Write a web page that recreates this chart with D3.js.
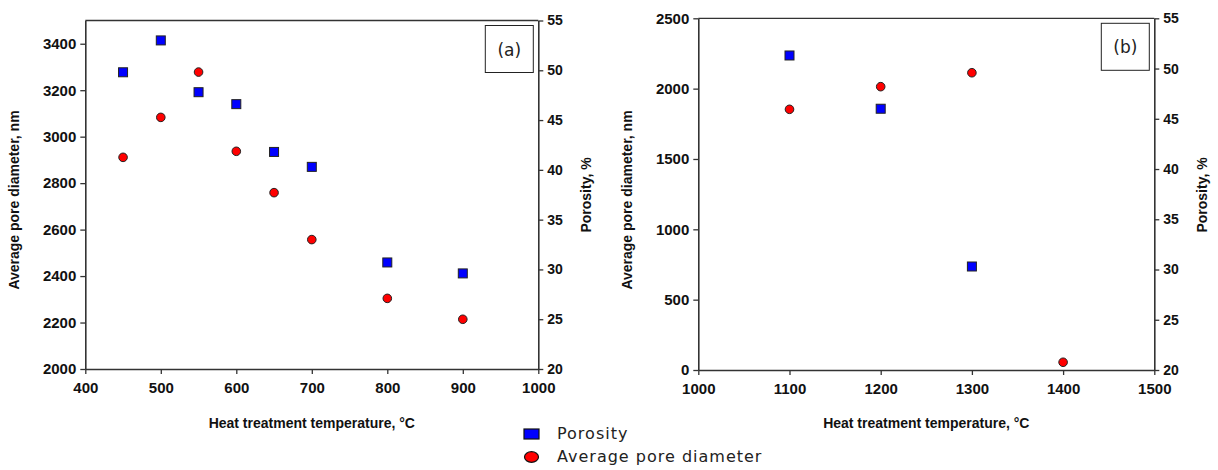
<!DOCTYPE html>
<html>
<head>
<meta charset="utf-8">
<script src="https://cdn.jsdelivr.net/npm/d3@7"></script>
<style>
  body { margin: 0; background: #fff; }
  svg { display: block; }
</style>
</head>
<body>
<svg id="chart" width="1218" height="470"></svg>
<script>
// data
const tempA = [450, 500, 550, 600, 650, 700, 800, 900];
const porosityA = [49.8, 53.0, 47.8, 46.6, 41.8, 40.3, 30.7, 29.6];
const diameterA = [2911, 3083, 3278, 2937, 2759, 2557, 2304, 2214];

const tempB_por = [1100, 1200, 1300];
const porosityB = [51.3, 46.0, 30.3];
const tempB_dia = [1100, 1200, 1300, 1400];
const diameterB = [1853, 2014, 2113, 55];

const xTicksA = [400, 500, 600, 700, 800, 900, 1000];
const yTicksA = [2000, 2200, 2400, 2600, 2800, 3000, 3200, 3400];
const xTicksB = [1000, 1100, 1200, 1300, 1400, 1500];
const yTicksB = [0, 500, 1000, 1500, 2000, 2500];
const porTicks = [20, 25, 30, 35, 40, 45, 50, 55];

const svg = d3.select("#chart");
const axisColor = "#333";
const fmt = d3.format("d");

const drawPanel = (p) => {
  const x = d3.scaleLinear().domain(p.xDomain).range([p.left, p.right]);
  const yL = d3.scaleLinear().domain(p.yDomain).range([p.bottom, p.top]);
  const yR = d3.scaleLinear().domain([20, 55]).range([p.bottom, p.top]);
  const g = svg.append("g");

  // top frame line
  g.append("line")
    .attr("x1", p.left).attr("x2", p.right)
    .attr("y1", p.top).attr("y2", p.top)
    .attr("stroke", axisColor).attr("stroke-width", 1.3);

  const styleAxis = (size) => (sel) => {
    sel.select(".domain").attr("stroke", axisColor).attr("stroke-width", 1.6);
    sel.selectAll(".tick line").attr("stroke", axisColor).attr("stroke-width", 1.3);
    sel.selectAll("text")
      .attr("font-family", "Liberation Sans, Arial, sans-serif")
      .attr("font-weight", "bold")
      .attr("font-size", size)
      .attr("fill", "#111");
  };

  g.append("g").attr("transform", "translate(0," + p.bottom + ")")
    .call(d3.axisBottom(x).tickValues(p.xTicks).tickFormat(fmt).tickSize(5).tickSizeOuter(0).tickPadding(8))
    .call(styleAxis("15px"));
  g.append("g").attr("transform", "translate(" + p.left + ",0)")
    .call(d3.axisLeft(yL).tickValues(p.yTicks).tickFormat(fmt).tickSize(5).tickSizeOuter(0).tickPadding(4))
    .call(styleAxis("15px"));
  g.append("g").attr("transform", "translate(" + p.right + ",0)")
    .call(d3.axisRight(yR).tickValues(porTicks).tickFormat(fmt).tickSize(5).tickSizeOuter(0).tickPadding(4))
    .call(styleAxis("14px"));

  // axis titles
  const bold = (t) => t.attr("font-family", "Liberation Sans, Arial, sans-serif")
    .attr("font-weight", "bold").attr("font-size", "14px").attr("fill", "#111")
    .attr("text-anchor", "middle");
  g.append("text").call(bold)
    .attr("transform", "translate(" + (p.left - p.ylabOff) + ",200) rotate(-90)")
    .text("Average pore diameter, nm");
  g.append("text").call(bold)
    .attr("transform", "translate(" + (p.right + 53) + ",195) rotate(-90)")
    .text("Porosity, %");
  g.append("text").call(bold)
    .attr("x", (p.left + p.right) / 2).attr("y", 428)
    .text("Heat treatment temperature, °C");

  // panel tag box
  g.append("rect")
    .attr("x", p.right - 53).attr("y", p.top + 5)
    .attr("width", 48).attr("height", 47)
    .attr("fill", "#fff").attr("stroke", "#222").attr("stroke-width", 1);
  g.append("text")
    .attr("x", p.right - 29).attr("y", p.top + 35)
    .attr("text-anchor", "middle")
    .attr("font-family", "DejaVu Sans, sans-serif").attr("font-size", "17px")
    .attr("fill", "#222")
    .text(p.tag);

  // pore diameter points
  g.selectAll(".dia").data(p.diaX.map((t, i) => [t, p.dia[i]])).enter()
    .append("circle")
    .attr("cx", d => x(d[0])).attr("cy", d => yL(d[1]))
    .attr("r", 4.3)
    .attr("fill", "#ff0000").attr("stroke", "#222").attr("stroke-width", 1);

  // porosity points
  g.selectAll(".por").data(p.porX.map((t, i) => [t, p.por[i]])).enter()
    .append("rect")
    .attr("x", d => x(d[0]) - 4.5).attr("y", d => yR(d[1]) - 4.5)
    .attr("width", 9).attr("height", 9)
    .attr("fill", "#0000ff").attr("stroke", "#222").attr("stroke-width", 1);
};

drawPanel({
  left: 85.3, right: 538.3, top: 20.5, bottom: 369,
  xDomain: [400, 1000], yDomain: [2000, 3500],
  xTicks: xTicksA, yTicks: yTicksA, ylabOff: 66,
  porX: tempA, por: porosityA, diaX: tempA, dia: diameterA, tag: "(a)"
});

drawPanel({
  left: 698.3, right: 1154.3, top: 18.3, bottom: 370,
  xDomain: [1000, 1500], yDomain: [0, 2500],
  xTicks: xTicksB, yTicks: yTicksB, ylabOff: 66,
  porX: tempB_por, por: porosityB, diaX: tempB_dia, dia: diameterB, tag: "(b)"
});

// legend
const legend = svg.append("g");
legend.append("rect")
  .attr("x", 524).attr("y", 429).attr("width", 15).attr("height", 10)
  .attr("fill", "#0000ff").attr("stroke", "#111").attr("stroke-width", 1.2);
legend.append("ellipse")
  .attr("cx", 531.5).attr("cy", 457).attr("rx", 7).attr("ry", 5.3)
  .attr("fill", "#ff0000").attr("stroke", "#111").attr("stroke-width", 1.2);
legend.selectAll(".lab").data(["Porosity", "Average pore diameter"]).enter()
  .append("text")
  .attr("x", 557).attr("y", (d, i) => 439 + i * 23)
  .attr("font-family", "DejaVu Sans, sans-serif").attr("font-size", "16px")
  .attr("letter-spacing", "1px").attr("fill", "#222")
  .text(d => d);
</script>
</body>
</html>
